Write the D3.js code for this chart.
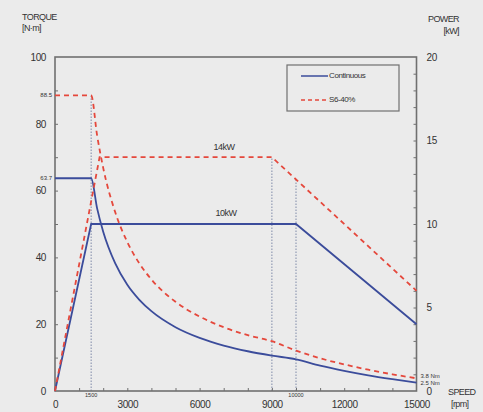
<!DOCTYPE html>
<html><head><meta charset="utf-8">
<script src="https://cdn.jsdelivr.net/npm/d3@7"></script>
<style>
html,body{margin:0;padding:0;background:#ebebeb;}
svg{display:block;font-family:"Liberation Sans",Arial,sans-serif;}
</style></head>
<body>
<svg id="c" width="483" height="412"></svg>
<script>
// ---- data ----
const contSpeed  = [0,1500,1750,2000,2500,3000,3500,4000,5000,6000,7000,8000,9000,10000,11000,12000,13000,14000,15000];
const contTorque = [63.7,63.7,54.6,47.7,38.2,31.8,27.3,23.9,19.1,15.9,13.6,11.9,10.6,9.5,7.6,6.05,4.7,3.55,2.5];
const contPowerSpeed = [0,1500,10000,15000];
const contPower      = [0,10,10,4];
const s6Speed  = [0,1500,1750,2000,2500,3000,3500,4000,5000,6000,7000,8000,9000,10000,11000,12000,13000,14000,15000];
const s6Torque = [88.5,88.5,76.4,66.8,53.5,44.6,38.2,33.4,26.7,22.3,19.1,16.7,14.9,12.1,9.8,7.96,6.37,5.0,3.8];
const s6PowerSpeed = [0,1850,9000,15000];
const s6Power      = [0,14,14,6];
const torqueTicks = [0,20,40,60,80,100];
const powerTicks  = [0,5,10,15,20];
const speedTicks  = [0,3000,6000,9000,12000,15000];
const guideSpeeds = [1500,9000,10000];
const guideTopKW  = [17.7,14,12.67];

const svg = d3.select("#c");
const L=55, R=416.5, T=57, B=391;
const x  = d3.scaleLinear().domain([0,15000]).range([L,R]);
const yT = d3.scaleLinear().domain([0,100]).range([B,T]);
const yP = d3.scaleLinear().domain([0,20]).range([B,T]);
const axisCol="#707070", textCol="#333";
const blue="#3b4c9b", red="#e5483c";

// guide dotted lines
guideSpeeds.forEach((s,i)=>{
  svg.append("line").attr("x1",x(s)).attr("x2",x(s))
    .attr("y1",B).attr("y2",yP(guideTopKW[i]))
    .attr("stroke","#7f8aa8").attr("stroke-width",1).attr("stroke-dasharray","1.5,1.5");
});

// frame
svg.append("rect").attr("x",L).attr("y",T).attr("width",R-L).attr("height",B-T)
  .attr("fill","none").attr("stroke",axisCol).attr("stroke-width",1.6);

function styleAxis(g){g.select(".domain").remove();g.selectAll("line").attr("stroke",axisCol);g.selectAll("text").attr("fill",textCol);}
// minor ticks (inward)
svg.append("g").attr("transform",`translate(${L},0)`)
  .call(d3.axisLeft(yT).tickValues(d3.range(10,100,10)).tickSize(-3).tickFormat(""))
  .call(styleAxis);
svg.append("g").attr("transform",`translate(0,${B})`)
  .call(d3.axisBottom(x).tickValues(d3.range(1000,15000,1000)).tickSize(-3).tickFormat(""))
  .call(styleAxis);
svg.append("g").attr("transform",`translate(${R},0)`)
  .call(d3.axisRight(yP).tickValues(d3.range(1,20,1)).tickSize(-3).tickFormat(""))
  .call(styleAxis);

// tick labels
const fmt=d3.format("d");
svg.append("g").attr("transform",`translate(${L},0)`)
  .call(d3.axisLeft(yT).tickValues(torqueTicks).tickSize(0).tickPadding(9).tickFormat(fmt))
  .call(styleAxis).selectAll("text").attr("font-size",10).attr("letter-spacing",-0.4);
svg.append("g").attr("transform",`translate(${R},0)`)
  .call(d3.axisRight(yP).tickValues(powerTicks).tickSize(0).tickPadding(10).tickFormat(fmt))
  .call(styleAxis).selectAll("text").attr("font-size",10).attr("letter-spacing",-0.4);
svg.append("g").attr("transform",`translate(0,${B})`)
  .call(d3.axisBottom(x).tickValues(speedTicks).tickSize(0).tickPadding(10).tickFormat(fmt))
  .call(styleAxis).selectAll("text").attr("font-size",10).attr("letter-spacing",-0.4);

// small annotations
const small = (tx,ty,t,anchor,fs)=>svg.append("text").attr("x",tx).attr("y",ty).text(t)
  .attr("font-size",fs||6).attr("fill",textCol).attr("text-anchor",anchor||"start").attr("dominant-baseline","middle");
small(L-3,yT(88.5),"88.5","end");
small(L-3,yT(63.7),"63.7","end");
small(x(1500),B+5,"1500","middle",5.5);
small(x(10000),B+5,"10000","middle",5.5);
small(R+4,yT(3.8)-2,"3.8 Nm","start",6);
small(R+4,yT(2.5)+1,"2.5 Nm","start",6);

// axis titles
const title=(tx,ty,t,anchor)=>svg.append("text").attr("x",tx).attr("y",ty).text(t)
  .attr("font-size",9).attr("fill",textCol).attr("text-anchor",anchor).attr("letter-spacing",-0.6);
title(22,20,"TORQUE","start");
title(22,31,"[N·m]","start");
title(459,22,"POWER","end");
title(459,34,"[kW]","end");
title(448,395,"SPEED","start");
title(451,407,"[rpm]","start");

// curves
const lineT = d3.line().x(d=>x(d[0])).y(d=>yT(d[1])).curve(d3.curveMonotoneX);
const lineP = d3.line().x(d=>x(d[0])).y(d=>yP(d[1]));
const zip=(a,b)=>a.map((v,i)=>[v,b[i]]);
svg.append("path").attr("d",lineP(zip(contPowerSpeed,contPower))).attr("fill","none").attr("stroke",blue).attr("stroke-width",1.8);
svg.append("path").attr("d",lineT(zip(contSpeed,contTorque))).attr("fill","none").attr("stroke",blue).attr("stroke-width",1.8);
svg.append("path").attr("d",lineP(zip(s6PowerSpeed,s6Power))).attr("fill","none").attr("stroke",red).attr("stroke-width",1.8).attr("stroke-dasharray","5,4");
svg.append("path").attr("d",lineT(zip(s6Speed,s6Torque))).attr("fill","none").attr("stroke",red).attr("stroke-width",1.8).attr("stroke-dasharray","5,4");

// curve labels
svg.append("text").attr("x",224).attr("y",150).text("14kW").attr("font-size",9).attr("fill",textCol).attr("text-anchor","middle").attr("letter-spacing",-0.5);
svg.append("text").attr("x",226).attr("y",216).text("10kW").attr("font-size",9).attr("fill",textCol).attr("text-anchor","middle").attr("letter-spacing",-0.5);

// legend
const lg=svg.append("g");
lg.append("rect").attr("x",287).attr("y",65).attr("width",112).attr("height",46)
  .attr("fill","#ebebeb").attr("stroke",axisCol).attr("stroke-width",1.2);
lg.append("line").attr("x1",301).attr("x2",328).attr("y1",76).attr("y2",76).attr("stroke",blue).attr("stroke-width",1.5);
lg.append("line").attr("x1",301).attr("x2",328).attr("y1",100).attr("y2",100).attr("stroke",red).attr("stroke-width",1.5).attr("stroke-dasharray","4,3");
lg.append("text").attr("x",329).attr("y",76).text("Continuous").attr("font-size",8).attr("fill",textCol).attr("dominant-baseline","middle").attr("letter-spacing",-0.4);
lg.append("text").attr("x",329).attr("y",100).text("S6-40%").attr("font-size",8).attr("fill",textCol).attr("dominant-baseline","middle").attr("letter-spacing",-0.4);
</script>
</body></html>
